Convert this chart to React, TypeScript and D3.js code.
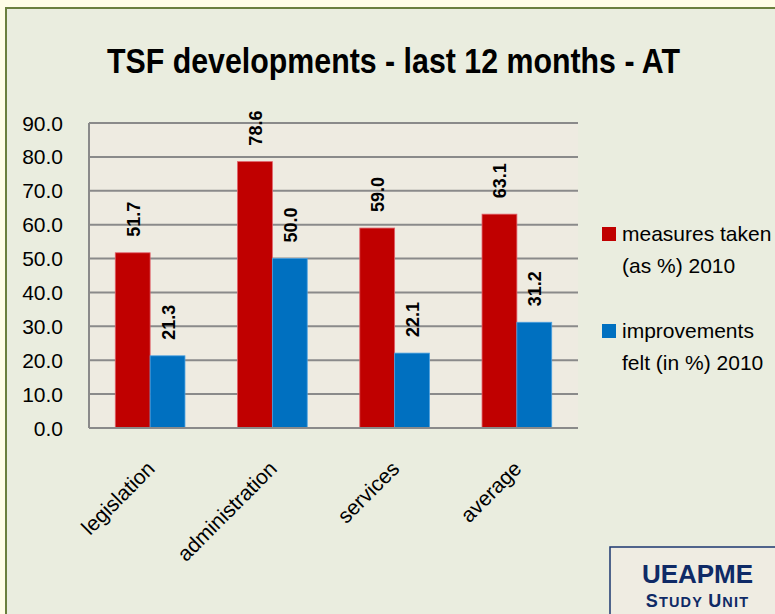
import React, { useEffect, useRef } from 'react';
import * as d3 from 'd3';

// categories and series
const categories = ['legislation', 'administration', 'services', 'average'];
const measuresTaken = [51.7, 78.6, 59.0, 63.1];
const improvementsFelt = [21.3, 50.0, 22.1, 31.2];
const seriesNames = ['measures taken', 'improvements felt'];
const legendLines = [
  ['measures taken', '(as %) 2010'],
  ['improvements', 'felt (in %) 2010'],
];
const yTicks = [0, 10, 20, 30, 40, 50, 60, 70, 80, 90];

const colors = ['#c00000', '#0070c0'];
const edgeColors = ['#e0606a', '#4aa0e0'];

const App: React.FC = () => {
  const chartRef = useRef<SVGSVGElement>(null);

  useEffect(() => {
    const width = 775;
    const height = 614;
    const plot = { left: 89, right: 578, top: 123, bottom: 428 };

    d3.select(chartRef.current).selectAll('*').remove();

    const svg = d3
      .select(chartRef.current)
      .attr('width', width)
      .attr('height', height);

    // page backgrounds and frame
    svg.append('rect').attr('width', width).attr('height', height).attr('fill', '#fffde6');
    svg
      .append('rect')
      .attr('x', 6)
      .attr('y', 8)
      .attr('width', width + 10)
      .attr('height', height + 10)
      .attr('fill', '#eaeddf')
      .attr('stroke', '#6b7f3e')
      .attr('stroke-width', 2);

    // title
    svg
      .append('text')
      .attr('x', 393.5)
      .attr('y', 73)
      .attr('text-anchor', 'middle')
      .attr('font-family', '"Liberation Sans Narrow", "Arial Narrow", "Liberation Sans", Arial, sans-serif')
      .attr('font-weight', 'bold')
      .attr('font-size', 35)
      .attr('textLength', 573)
      .attr('lengthAdjust', 'spacingAndGlyphs')
      .attr('fill', '#000')
      .text('TSF developments - last 12 months - AT');

    const x = d3
      .scaleBand<string>()
      .domain(categories)
      .range([plot.left, plot.right])
      .paddingInner(0.43)
      .paddingOuter(0.215);

    const xInner = d3
      .scaleBand<number>()
      .domain([0, 1])
      .range([0, x.bandwidth()]);

    const y = d3.scaleLinear().domain([0, 90]).range([plot.bottom, plot.top]);

    // plot area
    svg
      .append('rect')
      .attr('x', plot.left)
      .attr('y', plot.top)
      .attr('width', plot.right - plot.left)
      .attr('height', plot.bottom - plot.top)
      .attr('fill', '#eeebe1');

    // gridlines
    svg
      .append('g')
      .selectAll('line')
      .data(yTicks.filter((t) => t > 0))
      .join('line')
      .attr('x1', plot.left)
      .attr('x2', plot.right)
      .attr('y1', (d) => y(d))
      .attr('y2', (d) => y(d))
      .attr('stroke', '#8a8a8a')
      .attr('stroke-width', 2);

    // y tick labels
    svg
      .append('g')
      .selectAll('text')
      .data(yTicks)
      .join('text')
      .attr('x', 63)
      .attr('y', (d) => y(d))
      .attr('dy', '0.36em')
      .attr('text-anchor', 'end')
      .attr('font-family', '"Liberation Sans", Arial, sans-serif')
      .attr('font-size', 21)
      .attr('fill', '#000')
      .text((d) => d.toFixed(1));

    // bars
    const seriesData = [measuresTaken, improvementsFelt];
    seriesData.forEach((values, si) => {
      const g = svg.append('g');
      g.selectAll('rect')
        .data(values)
        .join('rect')
        .attr('x', (_, i) => (x(categories[i]) as number) + (xInner(si) as number))
        .attr('y', (d) => y(d))
        .attr('width', xInner.bandwidth())
        .attr('height', (d) => y(0) - y(d))
        .attr('fill', colors[si])
        .attr('stroke', edgeColors[si])
        .attr('stroke-width', 0.8);

      // value labels, rotated
      g.selectAll('text')
        .data(values)
        .join('text')
        .attr('transform', (d, i) => {
          const cx = (x(categories[i]) as number) + (xInner(si) as number) + xInner.bandwidth() / 2;
          return `translate(${cx + 7},${y(d) - 16}) rotate(-90)`;
        })
        .attr('text-anchor', 'start')
        .attr('font-family', '"Liberation Sans Narrow", "Arial Narrow", "Liberation Sans", Arial, sans-serif')
        .attr('font-weight', 'bold')
        .attr('font-size', 18)
        .attr('fill', '#000')
        .text((d) => d.toFixed(1));
    });

    // axes lines
    svg
      .append('line')
      .attr('x1', plot.left)
      .attr('x2', plot.left)
      .attr('y1', plot.top)
      .attr('y2', plot.bottom)
      .attr('stroke', '#8a8a8a')
      .attr('stroke-width', 2);
    svg
      .append('line')
      .attr('x1', plot.left)
      .attr('x2', plot.right)
      .attr('y1', plot.bottom)
      .attr('y2', plot.bottom)
      .attr('stroke', '#8a8a8a')
      .attr('stroke-width', 2);

    // category labels
    svg
      .append('g')
      .selectAll('text')
      .data(categories)
      .join('text')
      .attr('transform', (d) => {
        const cx = (x(d) as number) + x.bandwidth() / 2;
        return `translate(${cx + 6},470) rotate(-45)`;
      })
      .attr('text-anchor', 'end')
      .attr('font-family', '"Liberation Sans", Arial, sans-serif')
      .attr('font-size', 21)
      .attr('fill', '#000')
      .text((d) => d);

    // legend
    const legend = svg.append('g');
    const legendY = [227, 324];
    seriesNames.forEach((name, i) => {
      legend
        .append('rect')
        .attr('x', 602)
        .attr('y', legendY[i])
        .attr('width', 14)
        .attr('height', 14)
        .attr('fill', colors[i])
        .attr('aria-label', name);
      legendLines[i].forEach((line, li) => {
        legend
          .append('text')
          .attr('x', 622)
          .attr('y', legendY[i] + 14 + li * 32)
          .attr('font-family', '"Liberation Sans", Arial, sans-serif')
          .attr('font-size', 21)
          .attr('fill', '#000')
          .text(line);
      });
    });

    // logo box
    const logo = svg.append('g');
    logo
      .append('rect')
      .attr('x', 610)
      .attr('y', 547)
      .attr('width', 200)
      .attr('height', 100)
      .attr('fill', '#efece2')
      .attr('stroke', '#1c3770')
      .attr('stroke-width', 1.5);
    logo
      .append('text')
      .attr('x', 697.5)
      .attr('y', 583)
      .attr('text-anchor', 'middle')
      .attr('font-family', '"Liberation Sans", Arial, sans-serif')
      .attr('font-weight', 'bold')
      .attr('font-size', 26)
      .attr('fill', '#0f2a66')
      .text('UEAPME');
    const su = logo
      .append('text')
      .attr('x', 697.5)
      .attr('y', 607)
      .attr('text-anchor', 'middle')
      .attr('font-family', '"Liberation Sans", Arial, sans-serif')
      .attr('font-weight', 'bold')
      .attr('letter-spacing', 1.2)
      .attr('fill', '#0f2a66');
    su.append('tspan').attr('font-size', 18).text('S');
    su.append('tspan').attr('font-size', 14.5).text('TUDY ');
    su.append('tspan').attr('font-size', 18).text('U');
    su.append('tspan').attr('font-size', 14.5).text('NIT');
  }, []);

  return (
    <svg
      ref={chartRef}
      style={{ position: 'absolute', left: 0, top: 0, display: 'block' }}
    ></svg>
  );
};

export default App;
